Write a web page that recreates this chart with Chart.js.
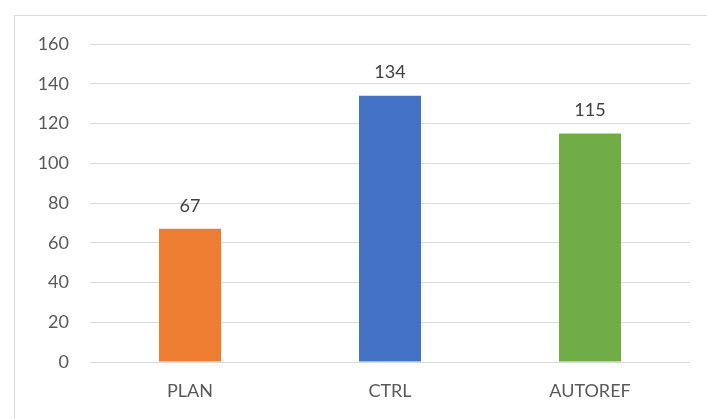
<!DOCTYPE html>
<html>
<head>
<meta charset="utf-8">
<script src="https://cdn.jsdelivr.net/npm/chart.js@4"></script>
<style>
html,body{margin:0;padding:0;background:#fff;}
#wrap{position:relative;width:707px;height:419px;overflow:hidden;}
#frame{position:absolute;left:14px;top:15px;width:720px;height:440px;border:1px solid #d9d9d9;box-sizing:border-box;}
canvas{position:absolute;left:0;top:0;}
</style>
</head>
<body>
<div id="wrap">
<div id="frame"></div>
<canvas id="c" width="707" height="419"></canvas>
</div>
<script>
const categories = ["PLAN", "CTRL", "AUTOREF"];
const values = [67, 134, 115];
const barColors = ["#ED7D31", "#4472C4", "#70AD47"];
const yTicks = [0, 20, 40, 60, 80, 100, 120, 140, 160];

const FONT = "Lato, 'Open Sans', sans-serif";

const valueLabels = {
  id: 'valueLabels',
  afterDatasetsDraw(chart) {
    const ctx = chart.ctx;
    const meta = chart.getDatasetMeta(0);
    ctx.save();
    ctx.font = "18px " + FONT;
    ctx.fillStyle = "#404040";
    ctx.textAlign = "center";
    ctx.textBaseline = "middle";
    meta.data.forEach((bar, i) => {
      ctx.fillText(String(values[i]), bar.x, bar.y - 23);
    });
    ctx.restore();
  }
};

new Chart(document.getElementById('c'), {
  type: 'bar',
  data: {
    labels: categories,
    datasets: [{
      data: values,
      backgroundColor: barColors,
      borderWidth: 0,
      categoryPercentage: 1,
      barPercentage: 0.31
    }]
  },
  options: {
    responsive: false,
    animation: false,
    devicePixelRatio: 1,
    layout: { padding: { left: 0, right: 17, top: 44, bottom: 0 } },
    plugins: { legend: { display: false }, tooltip: { enabled: false } },
    scales: {
      x: {
        grid: { display: false, drawTicks: false },
        border: { display: false },
        ticks: { color: "#595959", font: { family: FONT, size: 18 }, padding: 18 },
        afterFit(s) { s.height = 57; }
      },
      y: {
        min: 0, max: 160,
        afterBuildTicks(s) { s.ticks = yTicks.map(v => ({ value: v })); },
        grid: { color: "#d9d9d9", lineWidth: 1, drawTicks: false },
        border: { display: false },
        ticks: { color: "#595959", font: { family: FONT, size: 18 }, padding: 21 },
        afterFit(s) { s.width = 90; }
      }
    }
  },
  plugins: [valueLabels]
});
</script>
</body>
</html>
